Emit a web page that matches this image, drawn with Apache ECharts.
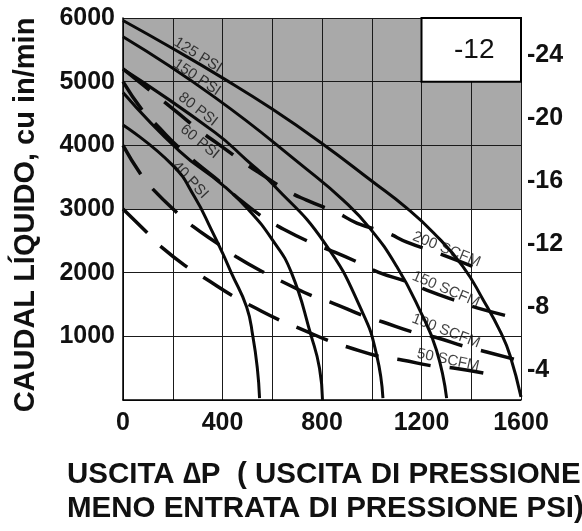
<!DOCTYPE html>
<html>
<head>
<meta charset="utf-8">
<script src="https://cdn.jsdelivr.net/npm/echarts@6/dist/echarts.min.js"></script>
<style>
  html, body { margin: 0; padding: 0; background: #fff; }
  #main { width: 582px; height: 531px; }
</style>
</head>
<body>
<div id="main"></div>
<script>
// tick labels
var xTicks = [0, 400, 800, 1200, 1600];
var yTicks = [1000, 2000, 3000, 4000, 5000, 6000];
var rightTicks = [-24, -20, -16, -12, -8, -4];

// solid curves (liquid flow vs delta P)
var psi125 = [[0, 5960], [200, 5520], [400, 5060], [600, 4570], [800, 4030], [1000, 3440], [1141, 3014], [1250, 2620], [1366, 2100], [1447, 1580], [1520, 1050], [1556, 700], [1600, 50]];
var psi150 = [[0, 5705], [368, 4757], [743, 3611], [885, 3140], [992, 2700], [1100, 2100], [1193, 1413], [1260, 785], [1301, 30]];
var psi80 = [[0, 5197], [368, 4208], [497, 3768], [602, 3390], [811, 2465], [964, 1366], [1020, 700], [1045, 30]];
var psi60 = [[0, 4830], [227, 3910], [400, 3380], [502, 3000], [600, 2520], [677, 2000], [757, 1000], [790, 500], [802, 0]];
var psi40 = [[0, 4320], [199, 3690], [288, 3187], [356, 2669], [400, 2310], [435, 2000], [497, 1460], [522, 1000], [540, 500], [549, 30]];

// dashed curves (air flow)
var scfm200 = [[0, 5200], [207, 4553], [316, 4208], [378, 4035], [489, 3721], [549, 3564], [670, 3266], [738, 3140], [863, 2936], [940, 2780], [1064, 2620], [1141, 2480], [1266, 2308], [1442, 2041]];
var scfm150 = [[0, 5000], [78, 4550], [135, 4318], [235, 3925], [296, 3721], [396, 3407], [457, 3187], [562, 2873], [630, 2716], [759, 2465], [831, 2355], [952, 2150], [1025, 2010], [1145, 1853], [1221, 1727], [1354, 1539], [1427, 1444], [1563, 1303]];
var scfm100 = [[0, 4000], [74, 3530], [123, 3300], [219, 2935], [280, 2730], [389, 2433], [457, 2245], [578, 1978], [643, 1853], [771, 1617], [843, 1523], [959, 1335], [1045, 1225], [1165, 1068], [1252, 989], [1382, 832], [1462, 754], [1584, 628]];
var scfm50 = [[0, 3000], [99, 2620], [155, 2400], [264, 2070], [328, 1915], [449, 1617], [517, 1476], [638, 1240], [707, 1130], [840, 910], [903, 832], [1041, 675], [1121, 628], [1246, 534], [1328, 502], [1469, 408]];

// curve labels and where they sit
var curveLabels = ['125 PSI', '150 PSI', '80 PSI', '60 PSI', '40 PSI', '200 SCFM', '150 SCFM', '100 SCFM', '50 SCFM'];
var labelAt = [[301, 5417], [297, 5066], [301, 4564], [308, 4056], [270, 3454], [1301, 2366], [1298, 1738], [1298, 1083], [1307, 628]];
var labelAngle = [-32, -34, -38, -39, -47, -22, -23, -21, -12];

// shaded band and the size box
var shadeBand = [3000, 6000];
var boxX = [1200, 1600];
var boxY = [5000, 6000];
var boxText = '-12';

var font = "'Liberation Sans', Arial, sans-serif";
var chart = echarts.init(document.getElementById('main'));

function solid(name, data) {
  return {
    name: name, type: 'line', data: data, showSymbol: false, smooth: 0.5,
    z: 5, silent: true,
    lineStyle: { color: '#0a0a0a', width: 3 }
  };
}
function dashed(name, data) {
  return {
    name: name, type: 'line', data: data, showSymbol: false, smooth: 0.5,
    z: 5, silent: true,
    lineStyle: { color: '#0a0a0a', width: 3.5, type: [34, 19], cap: 'butt' }
  };
}

var plain = function (v) { return String(v); };

var series = [
  {
    type: 'line', data: [], silent: true,
    markArea: {
      silent: true, z: 1,
      itemStyle: { color: '#a9a9a9' },
      data: [[{ coord: [0, shadeBand[0]] }, { coord: [1600, shadeBand[1]] }]]
    }
  },
  {
    type: 'line', data: [], silent: true,
    markArea: {
      silent: true, z: 3,
      itemStyle: { color: '#fff', borderColor: '#000', borderWidth: 2 },
      label: { show: true, position: 'inside', formatter: boxText, fontFamily: font, fontSize: 28, color: '#111', offset: [3, 0] },
      data: [[{ coord: [boxX[0], boxY[1]] }, { coord: [boxX[1], boxY[0]] }]]
    }
  },
  solid('125 PSI', psi125),
  solid('150 PSI', psi150),
  solid('80 PSI', psi80),
  solid('60 PSI', psi60),
  solid('40 PSI', psi40),
  dashed('200 SCFM', scfm200),
  dashed('150 SCFM', scfm150),
  dashed('100 SCFM', scfm100),
  dashed('50 SCFM', scfm50),
  {
    type: 'scatter', z: 6, silent: true, symbolSize: 1,
    itemStyle: { color: 'transparent' },
    data: curveLabels.map(function (t, i) {
      return {
        value: labelAt[i],
        label: { show: true, position: 'inside', formatter: t, rotate: labelAngle[i] }
      };
    }),
    label: { fontFamily: font, fontSize: 15, color: '#111' }
  }
];

chart.setOption({
  animation: false,
  backgroundColor: '#fff',
  grid: { left: 123, right: 61, top: 18, bottom: 131, outerBoundsMode: 'none' },
  xAxis: {
    type: 'value', min: 0, max: 1600, interval: 200, z: 2,
    axisLine: { show: true, onZero: false, lineStyle: { color: '#000', width: 1.5 } },
    axisTick: { show: false },
    splitLine: { show: true, lineStyle: { color: '#1a1a1a', width: 1 } },
    axisLabel: { customValues: xTicks, formatter: plain, margin: 11, fontFamily: font, fontWeight: 'bold', fontSize: 25, color: '#111' }
  },
  yAxis: [
    {
      type: 'value', min: 0, max: 6000, interval: 1000, z: 2,
      axisLine: { show: true, onZero: false, lineStyle: { color: '#000', width: 1.5 } },
      axisTick: { show: false },
      splitLine: { show: true, lineStyle: { color: '#1a1a1a', width: 1 } },
      axisLabel: { customValues: yTicks, formatter: plain, margin: 8, fontFamily: font, fontWeight: 'bold', fontSize: 25, color: '#111' }
    },
    {
      type: 'value', position: 'right', min: -26.35, max: -2.1, inverse: true,
      axisLine: { show: false }, axisTick: { show: false }, splitLine: { show: false },
      axisLabel: { customValues: rightTicks, formatter: plain, margin: 6, fontFamily: font, fontWeight: 'bold', fontSize: 25, color: '#111' }
    }
  ],
  graphic: [
    {
      type: 'text', x: 26, y: 215, rotation: Math.PI / 2,
      style: { text: 'CAUDAL LÍQUIDO, cu in/min', font: 'bold 29px ' + font, fill: '#111', align: 'center', verticalAlign: 'middle' }
    },
    {
      type: 'text', x: 67, y: 475,
      style: { text: 'USCITA \u2206P  ( USCITA DI PRESSIONE', font: 'bold 29.5px ' + font, fill: '#111', align: 'left', verticalAlign: 'middle' }
    },
    {
      type: 'text', x: 67, y: 509,
      style: { text: 'MENO ENTRATA DI PRESSIONE PSI)', font: 'bold 29.5px ' + font, fill: '#111', align: 'left', verticalAlign: 'middle' }
    }
  ],
  series: series
});
</script>
</body>
</html>
